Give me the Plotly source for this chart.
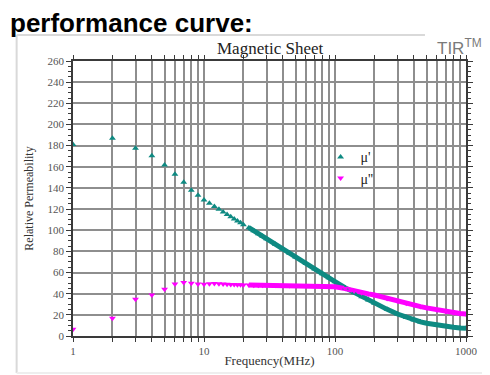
import plotly.graph_objects as go

# ---- data ----
freq = [1, 2, 3, 4, 5, 6, 7, 8, 9, 10,
        11, 12, 13, 14, 15, 16, 17, 18, 19, 20,
        22, 24, 26, 28, 30, 35, 40, 45, 50, 60, 70, 80, 90, 100,
        120, 140, 160, 180, 200, 250, 300, 350, 400, 450, 500,
        600, 700, 800, 900, 1000]
mu_real = [181, 187, 177.5, 170.5, 161.7, 152.9, 145.3, 137.7, 133, 128.6,
           125.4, 122.5, 119.8, 117.3, 114.9, 112.8, 110.7, 108.8, 107.0, 105.3,
           102.4, 99.4, 96.7, 94.2, 92, 86.8, 82.2, 78.3, 74.7, 68.6, 63.4, 58.9, 55, 51.4,
           45.5, 41, 37.2, 34, 31, 25.2, 20.8, 17.6, 15.2, 13.3, 12,
           10.1, 9, 8.2, 7.6, 7.3]
mu_imag = [6.3, 16.7, 34.7, 38.8, 44.1, 49.2, 50.7, 49.8, 49.2, 48.9,
           49.4, 49.7, 49.4, 49.2, 49, 48.8, 48.6, 48.5, 48.4, 48.3,
           48.2, 48.1, 48, 48, 47.9, 47.9, 47.8, 47.8, 47.7, 47.6, 47.4, 47.2, 46.9, 46.5,
           44.8, 42.6, 41, 39.8, 38.8, 35.5, 33, 31, 29.3, 27.8, 26.6,
           24.7, 23.2, 22.1, 21.3, 20.8]

x_grid = [1, 2, 3, 4, 5, 6, 7, 8, 9, 10, 20, 30, 40, 50, 60, 70, 80, 90, 100,
          200, 300, 400, 500, 600, 700, 800, 900, 1000]
x_labels = ["1" if v == 1 else "10" if v == 10 else "100" if v == 100 else "1000" if v == 1000 else "" for v in x_grid]

TEAL = "#0e8a82"
MAG = "#ff00ff"
SERIF = "Liberation Serif, Times New Roman, serif"
SANS = "Liberation Sans, Arial, sans-serif"

cont_start = freq.index(22)

fig = go.Figure()
# continuous part drawn as thick line (dense sweep)
fig.add_trace(go.Scatter(x=freq[cont_start:], y=mu_real[cont_start:], mode="lines",
                         line=dict(color=TEAL, width=5), showlegend=False, hoverinfo="skip"))
fig.add_trace(go.Scatter(x=freq[cont_start:], y=mu_imag[cont_start:], mode="lines",
                         line=dict(color=MAG, width=5), showlegend=False, hoverinfo="skip"))
fig.add_trace(go.Scatter(x=freq, y=mu_real, mode="markers", name="\u03bc'",
                         marker=dict(symbol="triangle-up", size=6, color=TEAL)))
fig.add_trace(go.Scatter(x=freq, y=mu_imag, mode="markers", name="\u03bc''",
                         marker=dict(symbol="triangle-down", size=6, color=MAG)))

GRID = "#8e8e8e"
fig.update_xaxes(type="log", range=[0, 3], tickvals=x_grid, ticktext=x_labels,
                 showgrid=True, gridcolor=GRID, gridwidth=1.5, automargin=False,
                 showline=True, linecolor="#3a3a3a", linewidth=1.5, mirror="ticks",
                 ticks="outside", ticklen=4, tickcolor="#3a3a3a",
                 tickfont=dict(family=SERIF, size=11, color="#555555"),
                 title=dict(text="Frequency(MHz)", font=dict(family=SERIF, size=13, color="#333333"),
                            standoff=0),
                 zeroline=False)
fig.update_yaxes(range=[0, 260], dtick=20, showgrid=True, gridcolor=GRID, gridwidth=1.5,
                 automargin=False,
                 showline=True, linecolor="#3a3a3a", linewidth=1.5, mirror="ticks",
                 ticks="outside", ticklen=5, tickcolor="#3a3a3a",
                 minor=dict(dtick=5, ticks="outside", ticklen=3, tickcolor="#3a3a3a", showgrid=False),
                 tickfont=dict(family=SERIF, size=11, color="#555555"),
                 title=dict(text="Relative Permeability", font=dict(family=SERIF, size=12, color="#333333"),
                            standoff=11),
                 zeroline=False)

# page has an 8px body margin, so the figure is sized/offset to compensate
fig.update_layout(
    width=482, height=367,
    margin=dict(l=65, r=24, t=53, b=39),
    paper_bgcolor="white", plot_bgcolor="white",
    showlegend=True,
    legend=dict(x=0.63, y=0.708, xanchor="left", yanchor="top", bgcolor="rgba(0,0,0,0)",
                font=dict(family=SERIF, size=14, color="#222222"), itemwidth=30,
                tracegroupgap=0),
    shapes=[
        dict(type="line", xref="paper", yref="paper", x0=-0.1434, x1=0.8956, y0=1.0945, y1=1.0945,
             line=dict(color="#d9d9d9", width=2)),
        dict(type="line", xref="paper", yref="paper", x0=-0.1434, x1=-0.1434, y0=1.0945, y1=-0.1345,
             line=dict(color="#d9d9d9", width=2)),
        dict(type="line", xref="paper", yref="paper", x0=-0.1434, x1=1.07, y0=-0.1345, y1=-0.1345,
             line=dict(color="#eeeeee", width=2)),
    ],
    annotations=[
        dict(text="<b>performance curve:</b>", xref="paper", yref="paper", x=-0.166, y=1.075,
             xanchor="left", yanchor="bottom", showarrow=False,
             font=dict(family=SANS, size=26, color="black")),
        dict(text="Magnetic Sheet", xref="paper", yref="paper", x=0.5, y=1.005,
             xanchor="center", yanchor="bottom", showarrow=False,
             font=dict(family=SERIF, size=17, color="#222222")),
        dict(text="TIR<sup>TM</sup>", xref="paper", yref="paper", x=1.045, y=1.005,
             xanchor="right", yanchor="bottom", showarrow=False,
             font=dict(family=SANS, size=17, color="#7a7a7a")),
    ],
)

fig.write_html("out.html")
